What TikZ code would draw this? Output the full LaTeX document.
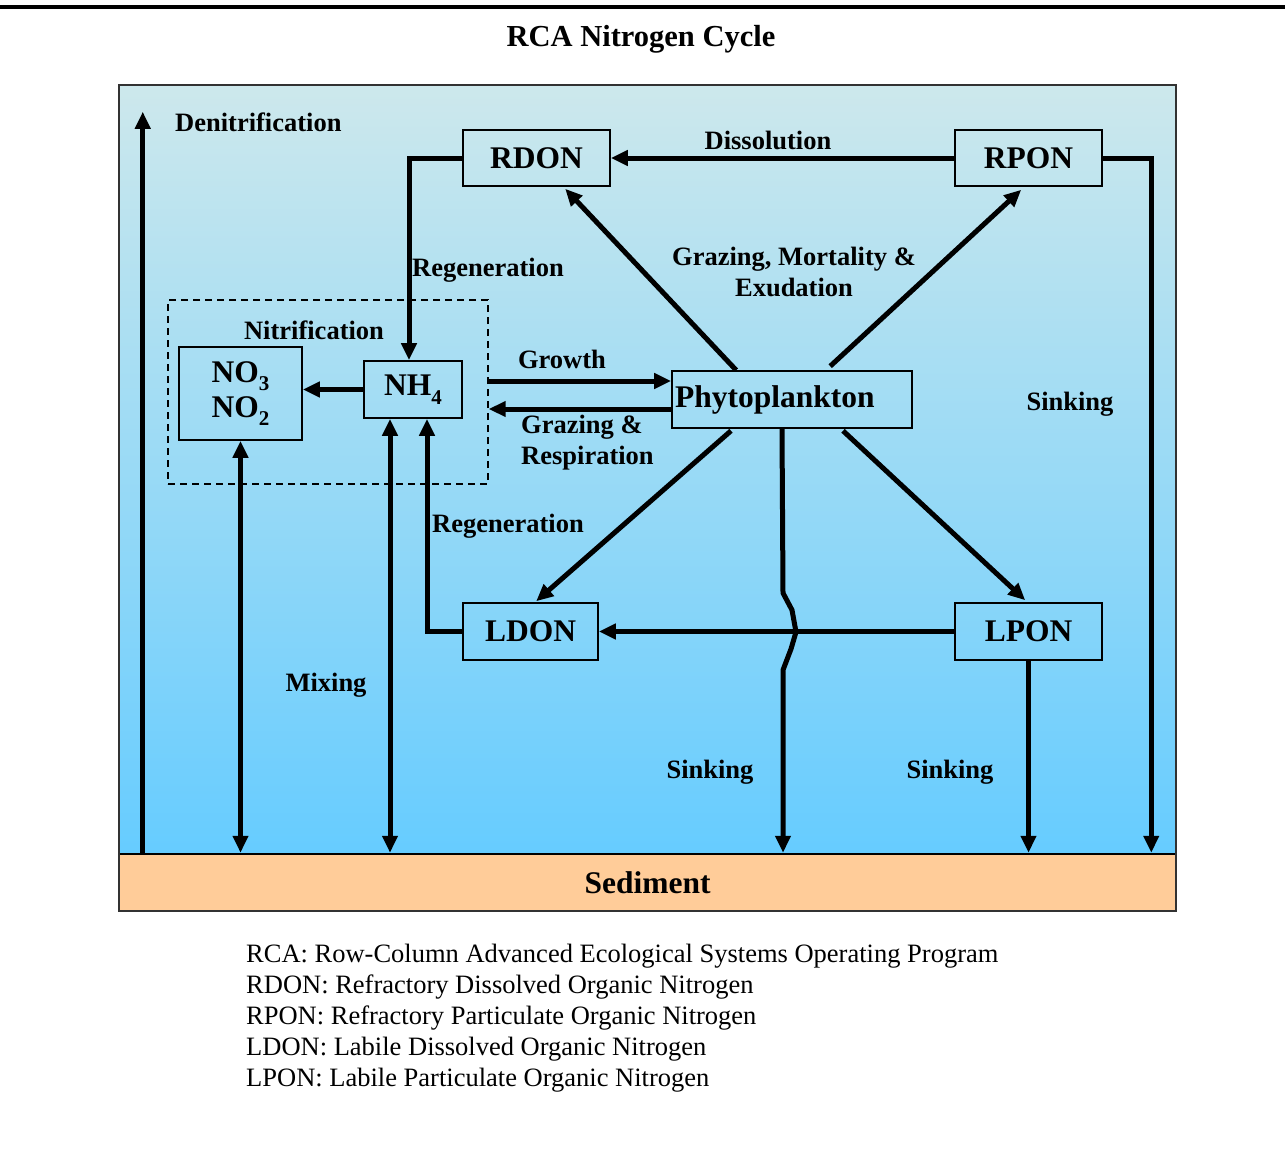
\documentclass[tikz,border=0pt]{standalone}
\usepackage{fontspec}
\setmainfont{Liberation Serif}
\usetikzlibrary{arrows.meta,calc}
\definecolor{peach}{RGB}{255,204,153}
\definecolor{seatop}{RGB}{205,232,236}
\definecolor{seabot}{RGB}{102,204,255}
\definecolor{frame}{RGB}{50,50,50}
\newcommand{\mysub}[1]{\raisebox{-0.28em}{\fontsize{21}{21}\selectfont #1}}
\begin{document}
\begin{tikzpicture}[x=1pt,y=-1pt,
  big/.style={font=\fontsize{31.5}{35}\selectfont\bfseries},
  lbl/.style={font=\fontsize{26.5}{31}\selectfont\bfseries, inner sep=0pt},
  box/.style={draw=black, line width=1.6pt, big, inner sep=0pt},
  tip/.tip={Triangle[length=17pt,width=15pt]},
  flow/.style={line width=5pt, -tip},
  flowtwo/.style={line width=5pt, tip-tip},
  leg/.style={font=\fontsize{26.5}{31}\selectfont, anchor=base west, inner sep=0pt}]
\useasboundingbox (0,0) rectangle (1285,1156);
\fill[white] (0,0) rectangle (1285,1156);
\draw[line width=4pt] (0,7) -- (1285,7);
\node[inner sep=0pt, font=\fontsize{30.5}{34}\selectfont\bfseries] (title) at (641,39) {RCA Nitrogen Cycle};

% water column
\shade[top color=seatop, bottom color=seabot] (119,85) rectangle (1176,854);
\node[draw=black, line width=2.5pt, fill=peach, minimum width=1057pt, minimum height=57pt, inner sep=0pt, big] (sed) at (647.5,882.5) {Sediment};
\draw[line width=2pt, draw=frame] (119,85) rectangle (1176,911);

% boxes
\node[box, minimum width=147pt, minimum height=56pt] (rdon) at (536.5,158) {RDON};
\node[box, minimum width=147pt, minimum height=56pt] (rpon) at (1028.5,158) {RPON};
\node[box, minimum width=240pt, minimum height=57pt, text width=234pt, align=left] (phyto) at (792,399.5) {Phytoplankton};
\node[box, minimum width=98pt, minimum height=57pt] (nh4) at (413,389.5) {NH\mysub{4}};
\node[box, minimum width=123pt, minimum height=93pt, align=center, font=\fontsize{31.5}{35}\selectfont\bfseries] (no) at (240.5,393.5) {NO\mysub{3}\\NO\mysub{2}};
\node[box, minimum width=135pt, minimum height=57pt] (ldon) at (530.5,631.5) {LDON};
\node[box, minimum width=147pt, minimum height=57pt] (lpon) at (1028.5,631.5) {LPON};
\node[draw=black, line width=1.4pt, dash pattern=on 7pt off 5pt, minimum width=320pt, minimum height=184pt, inner sep=0pt] (nitrbox) at (328,392) {};

% connectors
\draw[flow] ([xshift=25pt]sed.north west) -- ++(0,-741);
\draw[flow] (rpon.west) -- (rdon.east);
\draw[flow] (rdon.west) -| ([xshift=-4pt]nh4.north);
\draw[flow] (rpon.east) -| ([xshift=-26pt]sed.north east);
\draw[flow] ([xshift=65pt]phyto.north west) -- ([xshift=103pt,yshift=-2pt]rdon.south west);
\draw[flow] ([xshift=159pt,yshift=4pt]phyto.north west) -- ([xshift=67pt,yshift=-3pt]rpon.south west);
\coordinate (g1) at ([yshift=18.5pt]phyto.west);
\coordinate (g2) at ([yshift=-9.5pt]phyto.west);
\draw[flow] (g1 -| nitrbox.east) -- (g1);
\draw[flow] (g2) -- (g2 -| nitrbox.east);
\draw[flow] (nh4.west) -- (nh4.west -| no.east);
\draw[flowtwo] (no.south) -- (no.south |- sed.north);
\draw[flowtwo] ([xshift=-23pt]nh4.south) -- ([xshift=-23pt]nh4.south |- sed.north);
\draw[flow] (ldon.west) -| ([xshift=14pt]nh4.south);
\draw[flow] ([xshift=-61pt,yshift=-2pt]phyto.south) -- ([xshift=74pt,yshift=1pt]ldon.north west);
\draw[flow] ([xshift=51pt,yshift=-2pt]phyto.south) -- ([xshift=71pt,yshift=2pt]lpon.north west);
\draw[flow] (lpon.west) -- (ldon.east);
\coordinate (w1) at (783,593);
\coordinate (w2) at (792,610);
\coordinate (w3) at (796,632);
\coordinate (w4) at (791,649);
\coordinate (w5) at (783,670);
\draw[flow, line join=round] ([xshift=-10pt]phyto.south) -- (w1) -- (w2) -- (w3) -- (w4) -- (w5) -- (w5 |- sed.north);
\draw[flow] (lpon.south) -- (lpon.south |- sed.north);

% labels
\node[lbl, anchor=west] (ldenit) at (175,122) {Denitrification};
\node[lbl] (ldiss) at (768,140) {Dissolution};
\node[lbl, anchor=west] (lregen1) at (412,270) {Regeneration};
\node[lbl, align=center] (lgraz) at (794,272) {Grazing, Mortality \&\\Exudation};
\node[lbl] (lnitr) at (314,330) {Nitrification};
\node[lbl] (lgrowth) at (562,359) {Growth};
\node[lbl, align=left, anchor=west] (lresp) at (521,443) {Grazing \&\\Respiration};
\node[lbl] (lsink1) at (1070,404) {Sinking};
\node[lbl, anchor=west] (lregen2) at (432,526) {Regeneration};
\node[lbl] (lmix) at (326,685) {Mixing};
\node[lbl] (lsink2) at (710,772) {Sinking};
\node[lbl] (lsink3) at (950,772) {Sinking};

% legend
\node[leg] (leg1) at (246,962) {RCA: Row-Column Advanced Ecological Systems Operating Program};
\node[leg] (leg2) at (246,993) {RDON: Refractory Dissolved Organic Nitrogen};
\node[leg] (leg3) at (246,1024) {RPON: Refractory Particulate Organic Nitrogen};
\node[leg] (leg4) at (246,1055) {LDON: Labile Dissolved Organic Nitrogen};
\node[leg] (leg5) at (246,1086) {LPON: Labile Particulate Organic Nitrogen};
\end{tikzpicture}
\end{document}
